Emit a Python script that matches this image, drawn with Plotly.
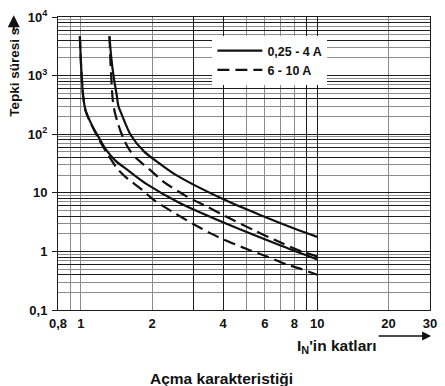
import math
import plotly.graph_objects as go

# ---- data ----
# multiples of I_N (x) and trip time in seconds (t)
solid_lo_x = [0.99, 0.998, 1.008, 1.022, 1.047, 1.104, 1.181, 1.275, 1.403, 1.574, 1.907, 2.618, 3.992, 6.83, 10]
solid_lo_t = [4700, 2050, 955, 446, 252, 153, 93, 55, 35, 24.6, 13.9, 6.7, 3.14, 1.31, 0.73]
solid_hi_x = [1.321, 1.344, 1.376, 1.42, 1.44, 1.476, 1.625, 1.848, 2.167, 2.543, 3.992, 5.84, 8.04, 10]
solid_hi_t = [4700, 2050, 955, 446, 304, 236, 97, 51, 31, 19.8, 7.8, 4.05, 2.43, 1.77]
dash_lo_x = [0.99, 0.998, 1.008, 1.022, 1.047, 1.104, 1.181, 1.299, 1.43, 1.574, 1.784, 2.06, 2.47, 2.985, 3.557, 4.23, 5.12, 6.22, 7.54, 8.58, 10]
dash_lo_t = [4700, 2050, 955, 446, 252, 150, 87, 45.3, 25.5, 17.5, 11.9, 7.26, 4.6, 2.94, 2.01, 1.46, 1.07, 0.80, 0.586, 0.498, 0.40]
dash_hi_x = [1.321, 1.331, 1.344, 1.363, 1.39, 1.43, 1.476, 1.53, 1.60, 1.704, 1.848, 2.0, 2.239, 2.80, 3.39, 4.11, 5.48, 6.64, 8.58, 10]
dash_hi_t = [4700, 2050, 955, 393, 242, 159, 109, 77, 55, 40, 30, 23, 15.4, 8.7, 5.9, 3.95, 2.23, 1.56, 1.0, 0.82]

series_names = ["0,25 - 4 A", "6 - 10 A"]

x_tick_vals = [0.8, 1, 2, 4, 6, 8, 10, 20, 30]
x_tick_text = ["0,8", "1", "2", "4", "6", "8", "10", "20", "30"]
x_grid_dark = [3, 4, 9, 10]
x_grid_light = [0.9, 1, 2, 5, 6, 7, 8, 20]

y_tick_vals = [0.1, 1, 10, 100, 1000, 10000]
y_tick_text = ["0,1", "1", "10", "10<sup>2</sup>", "10<sup>3</sup>", "10<sup>4</sup>"]
decades = [0.1, 1, 10, 100, 1000]
y_grid_dark = [d * m for d in decades for m in (1, 4, 6, 8)] + [10000]
y_grid_light = [d * m for d in decades for m in (2, 3, 5, 7, 9)]

FONT = "Liberation Sans, Arial, sans-serif"
DARK = "#1c1c1c"
LIGHT = "#8c8c8c"

fig = go.Figure()
line_s = dict(color="#111111", width=2.2, shape="spline", smoothing=0.8)
line_d = dict(color="#111111", width=2.2, dash="12px,6px", shape="spline", smoothing=0.8)

# solid curves on the grid axes (x, y); dashed curves on the label axes (x2, y2)
fig.add_trace(go.Scatter(x=solid_lo_x, y=solid_lo_t, mode="lines", line=line_s,
                         name=series_names[0], legendgroup="s", showlegend=True))
fig.add_trace(go.Scatter(x=solid_hi_x, y=solid_hi_t, mode="lines", line=line_s,
                         name=series_names[0], legendgroup="s", showlegend=False))
fig.add_trace(go.Scatter(x=dash_lo_x, y=dash_lo_t, mode="lines", line=line_d,
                         name=series_names[1], legendgroup="d", showlegend=True,
                         xaxis="x2", yaxis="y2"))
fig.add_trace(go.Scatter(x=dash_hi_x, y=dash_hi_t, mode="lines", line=line_d,
                         name=series_names[1], legendgroup="d", showlegend=False,
                         xaxis="x2", yaxis="y2"))

xr = [math.log10(0.8), math.log10(30)]
yr = [-1, 4]

fig.update_layout(
    width=445, height=386,
    margin=dict(l=58, r=9, t=8, b=76),
    paper_bgcolor="white", plot_bgcolor="white",
    font=dict(family=FONT, size=13, color="#111111", weight="bold"),
    showlegend=True,
    legend=dict(x=0.415, y=0.935, xanchor="left", yanchor="top",
                bgcolor="white", borderwidth=0, tracegroupgap=0,
                font=dict(family=FONT, size=12.5, weight="bold", color="#111111"),
                itemwidth=45),
    xaxis=dict(type="log", range=xr, tickmode="array", tickvals=x_grid_dark,
               showticklabels=False, ticks="", showgrid=True, gridcolor=DARK, gridwidth=1,
               minor=dict(tickmode="array", tickvals=x_grid_light, showgrid=True,
                          gridcolor=LIGHT, gridwidth=1, ticks=""),
               showline=True, mirror=True, linecolor=DARK, linewidth=1, zeroline=False),
    xaxis2=dict(type="log", range=xr, overlaying="x", side="bottom", anchor="y2",
                tickmode="array", tickvals=x_tick_vals, ticktext=x_tick_text,
                showgrid=False, ticks="", showline=False, zeroline=False,
                ticklabelstandoff=4,
                tickfont=dict(family=FONT, size=13, weight="bold")),
    yaxis=dict(type="log", range=yr, tickmode="array", tickvals=y_grid_dark,
               showticklabels=False, ticks="", showgrid=True, gridcolor=DARK, gridwidth=1,
               minor=dict(tickmode="array", tickvals=y_grid_light, showgrid=True,
                          gridcolor=LIGHT, gridwidth=1, ticks=""),
               showline=True, mirror=True, linecolor=DARK, linewidth=1, zeroline=False),
    yaxis2=dict(type="log", range=yr, overlaying="y", side="left", anchor="x2",
                tickmode="array", tickvals=y_tick_vals, ticktext=y_tick_text,
                showgrid=False, ticks="outside", ticklen=5, tickcolor=DARK, tickwidth=1,
                showline=False, zeroline=False, ticklabelstandoff=2,
                tickfont=dict(family=FONT, size=13, weight="bold")),
)

annotations = [
    dict(text="Tepki süresi s", textangle=-90, xref="paper", yref="paper",
         x=-0.119, y=0.812, xanchor="center", yanchor="middle", showarrow=False,
         font=dict(size=13.5, weight="bold")),
    dict(text="", xref="paper", yref="paper", x=-0.119, y=1.006, ax=0, ay=17,
         showarrow=True, arrowhead=2, arrowsize=1.2,
         arrowwidth=2, arrowcolor="#111111"),
    dict(text="I<sub>N</sub>'in katları", xref="paper", yref="paper",
         x=0.751, y=-0.126, xanchor="center", yanchor="middle", showarrow=False,
         font=dict(size=15.5, weight="bold")),
    dict(text="", xref="paper", yref="paper", x=1.003, y=-0.089, ax=-54, ay=0,
         showarrow=True, arrowhead=2, arrowsize=1.2, arrowwidth=1.5, arrowcolor="#111111"),
    dict(text="Açma karakteristiği", xref="paper", yref="paper",
         x=0.439, y=-0.234, xanchor="center", yanchor="middle", showarrow=False,
         font=dict(size=15.5, weight="bold")),
]
fig.update_layout(annotations=annotations)

fig.write_html("out.html", config={"displayModeBar": False},
               post_script="document.body.style.margin='0';document.body.style.overflow='hidden';")
